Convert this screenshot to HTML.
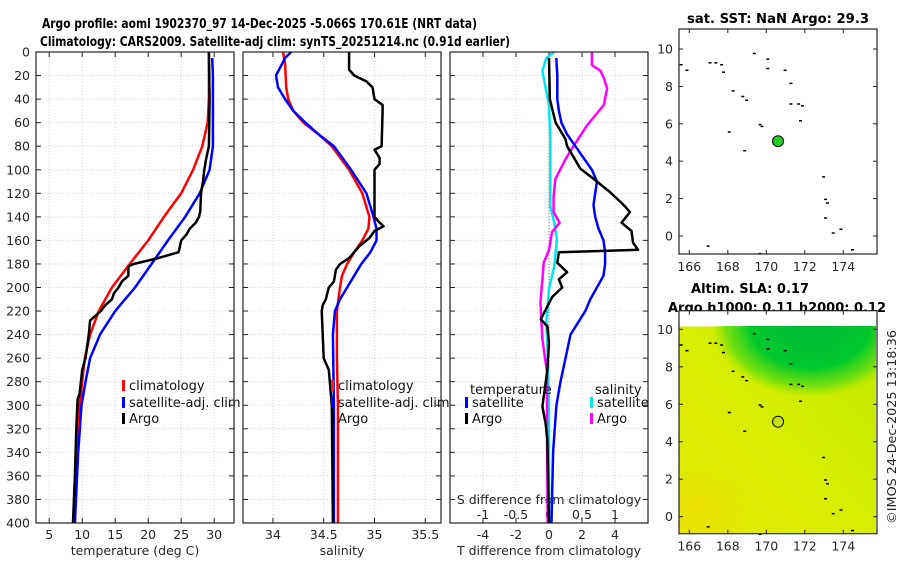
<!DOCTYPE html>
<html><head><meta charset="utf-8">
<style>
html,body{margin:0;padding:0;background:#fff;}
svg{display:block;font-family:"DejaVu Sans","Liberation Sans",sans-serif;}
.tk{font-size:12.5px;fill:#262626;}
.ttl{font-size:13px;font-weight:bold;fill:#000;}
.lg{font-size:13px;fill:#111;}
</style></head>
<body>
<svg id="chart" width="900" height="580" viewBox="0 0 900 580" xmlns="http://www.w3.org/2000/svg">
<defs>
<linearGradient id="bgGrad" x1="0" y1="1" x2="1" y2="0"><stop offset="0" stop-color="#e6e600"/><stop offset="0.5" stop-color="#d6ee00"/><stop offset="1" stop-color="#bfe800"/></linearGradient>
<radialGradient id="blob"><stop offset="0" stop-color="#00b838"/><stop offset="0.6" stop-color="#00c92c"/><stop offset="0.85" stop-color="#60dc10" stop-opacity="0.8"/><stop offset="1" stop-color="#a0e800" stop-opacity="0"/></radialGradient>
<radialGradient id="orng"><stop offset="0" stop-color="#f0d800" stop-opacity="0.6"/><stop offset="1" stop-color="#e8e400" stop-opacity="0"/></radialGradient>
<clipPath id="map2clip"><rect x="679" y="326" width="197" height="207"/></clipPath>
</defs>
<text class="ttl" x="42" y="28" textLength="435" lengthAdjust="spacingAndGlyphs">Argo profile: aoml 1902370_97 14-Dec-2025 -5.066S 170.61E (NRT data)</text>
<text class="ttl" x="40" y="46" textLength="470" lengthAdjust="spacingAndGlyphs">Climatology: CARS2009. Satellite-adj clim: synTS_20251214.nc (0.91d earlier)</text>
<text class="ttl" x="687" y="23" textLength="182" lengthAdjust="spacingAndGlyphs">sat. SST: NaN Argo: 29.3</text>
<text class="ttl" x="691" y="293" textLength="118" lengthAdjust="spacingAndGlyphs">Altim. SLA: 0.17</text>
<text class="ttl" x="668" y="312" textLength="218" lengthAdjust="spacingAndGlyphs">Argo h1000: 0.11 h2000: 0.12</text>
<text class="tk" transform="translate(896,524) rotate(-90)" x="0" y="0" textLength="194" lengthAdjust="spacingAndGlyphs">©IMOS 24-Dec-2025 13:18:36</text>
<g id="plots"></g>
</svg>
<script>
// ---------- data ----------
const depthTicks = [0,20,40,60,80,100,120,140,160,180,200,220,240,260,280,300,320,340,360,380,400];
const tempTicks = [5,10,15,20,25,30];
const salTicks = [34,34.5,35,35.5];
const salTickLabels = ["34","34.5","35","35.5"];
const tdiffTicks = [-4,-2,0,2,4];
const sdiffTicks = [-1,-0.5,0,0.5,1];
const sdiffTickLabels = ["-1","-0.5","0","0.5","1"];

const climTDepth = [0,40,60,80,100,120,140,160,180,200,220,240,260,280,300,320,340,360,380,400];
const climT = [29.2,29.2,29.0,28.2,26.8,25.0,22.4,20.0,17.2,14.5,12.5,11.2,10.4,10.0,9.6,9.3,9.1,9.0,8.95,8.9];
const satTDepth = [5,20,80,100,120,140,160,180,200,220,240,260,280,300,340,400];
const satT = [29.7,29.8,29.8,29.3,27.8,25.6,23.0,20.5,18.0,15.0,12.7,11.2,10.5,9.9,9.4,8.9];
const argoTDepth = [0,40,80,90,100,110,120,135,140,145,150,155,160,170,175,180,182,190,195,200,205,210,215,220,228,240,260,270,280,290,295,320,360,400];
const argoT = [29.2,29.3,29.2,28.8,28.5,28.3,28.0,27.9,27.7,27.2,26.3,25.8,25.0,24.6,21.5,17.8,17.0,17.0,16.0,15.5,14.8,14.5,13.5,12.8,11.2,11.0,10.5,10.0,9.8,9.6,9.3,9.1,8.9,8.6];

const climSDepth = [0,10,30,40,50,60,70,80,100,120,140,150,160,170,180,190,200,220,260,300,400];
const climS = [34.10,34.12,34.13,34.15,34.2,34.3,34.45,34.58,34.75,34.88,34.95,34.94,34.88,34.8,34.73,34.68,34.66,34.63,34.63,34.64,34.64];
const satSDepth = [0,5,10,20,30,40,50,60,70,80,100,120,140,150,160,170,180,190,200,210,220,240,300,400];
const satS = [34.18,34.12,34.09,34.03,34.05,34.12,34.2,34.32,34.45,34.6,34.77,34.92,34.99,35.02,35.02,34.96,34.87,34.8,34.73,34.66,34.61,34.59,34.6,34.6];
const argoSDepth = [0,15,20,25,30,40,45,50,80,83,90,95,100,110,130,140,145,148,152,158,165,175,180,185,195,200,210,215,220,260,270,300,400];
const argoS = [34.75,34.75,34.8,34.92,34.98,35.0,35.08,35.08,35.07,35.0,35.05,35.05,35.0,35.0,35.0,35.0,35.05,35.09,35.0,34.95,34.85,34.75,34.66,34.62,34.6,34.55,34.52,34.49,34.48,34.5,34.55,34.58,34.59];

const satTdDepth = [5,20,40,50,60,70,80,90,100,110,120,130,140,150,160,170,180,190,200,210,220,240,260,280,300,340,400];
const satTd = [0.44,0.5,0.5,0.6,0.75,1.1,1.6,2.1,2.6,2.9,2.8,2.7,2.8,3.0,3.3,3.4,3.4,3.3,2.9,2.5,2.2,1.3,1.0,0.7,0.45,0.25,0.15];
const argoTdDepth = [5,40,60,74,80,99,110,119,127,131,136,145,152,162,168,170,179,187,193,200,208,216,227,233,247,270,301,316,330,400];
const argoTd = [0.0,0.05,0.4,1.0,1.1,1.9,2.9,3.7,4.3,4.6,4.9,4.4,5.0,5.1,5.4,0.6,0.5,1.1,0.6,0.8,0.2,-0.1,-0.5,-0.1,0.0,-0.1,-0.4,-0.2,-0.1,0.0];
const satSdDepth = [0,5,16,31,45,74,131,145,159,182,201,229,258,300,400];
const satSd = [0.08,-0.04,-0.1,-0.05,0.0,0.02,0.02,0.08,0.12,0.08,0.0,-0.04,-0.02,0.0,0.0];
const argoSdDepth = [0,11,16,22,31,45,62,80,91,108,123,136,145,153,168,179,193,213,244,272,330,400];
const argoSd = [0.65,0.65,0.78,0.83,0.88,0.83,0.58,0.37,0.25,0.095,0.07,0.07,0.16,0.045,0.0,-0.08,-0.1,-0.13,-0.1,-0.03,-0.03,-0.02];

const mapLonTicks = [166,168,170,172,174];
const mapLatTicks = [0,2,4,6,8,10];
const floatLon = [170.61];
const floatLat = [5.07];
const coastLon = [165.5,165.8,167.0,167.3,167.6,167.7,168.2,168.7,168.9,169.3,169.6,169.7,170.0,170.0,170.9,171.2,171.2,171.6,171.7,171.8,172.9,173.0,173.1,173.0,173.4,173.8,174.4,168.0,168.8,166.9,169.6];
const coastLat = [9.2,8.9,9.3,9.3,9.2,8.8,7.8,7.5,7.3,9.8,6.0,5.9,9.5,9.0,8.9,8.2,7.1,7.1,6.2,7.0,3.2,2.0,1.8,1.0,0.2,0.4,-0.7,5.6,4.6,-0.5,-0.9];

// ---------- helpers ----------
const NS = "http://www.w3.org/2000/svg";
const root = document.getElementById('plots');
function mk(tag, attrs, parent){ const e=document.createElementNS(NS,tag); for(const k in attrs) e.setAttribute(k,attrs[k]); (parent||root).appendChild(e); return e; }
const yTop=52, yBot=523;
function yD(d){ return yTop + (d/400)*(yBot-yTop); }
function lin(d0,d1,r0,r1){ return v => r0 + (v-d0)/(d1-d0)*(r1-r0); }
const xT = lin(3,33,36,234);
const xS = lin(33.705,35.655,243,441);
const xTd = lin(-6,6,450,648);
const xSd = lin(-1.5,1.5,450,648);

function panelFrame(x0,x1,xs,xticks,name){
  const g=mk('g',{});
  
  
  mk('rect',{x:x0,y:yTop,width:x1-x0,height:yBot-yTop,fill:'#fff'},g);
  xticks.forEach(t=>{ const x=xs(t); mk('line',{x1:x,y1:yTop,x2:x,y2:yBot,stroke:'#d2d5ec','stroke-width':1,'stroke-dasharray':'1,2'},g);});
  depthTicks.forEach(d=>{ const y=yD(d); mk('line',{x1:x0,y1:y,x2:x1,y2:y,stroke:'#d2d5ec','stroke-width':1,'stroke-dasharray':'1,2'},g);
    mk('line',{x1:x0,y1:y,x2:x0+5,y2:y,stroke:'#222'},g); mk('line',{x1:x1,y1:y,x2:x1-5,y2:y,stroke:'#222'},g);});
  xticks.forEach(t=>{ const x=xs(t); mk('line',{x1:x,y1:yBot,x2:x,y2:yBot-5,stroke:'#222'},g); mk('line',{x1:x,y1:yTop,x2:x,y2:yTop+5,stroke:'#222'},g);});
  return g;
}
function frameBorder(x0,x1){ mk('rect',{x:x0,y:yTop,width:x1-x0,height:yBot-yTop,fill:'none',stroke:'#222','stroke-width':1.2}); }
function line(xs,vals,depths,color,w,name){
  let d='';
  vals.forEach((v,i)=>{ d+=(i?'L':'M')+xs(v).toFixed(1)+','+yD(depths[i]).toFixed(1); });
  const p=mk('path',{d:d,fill:'none',stroke:color,'stroke-width':w,'stroke-linejoin':'round'});
  
  
}
function txt(x,y,s,cls,anchor,name){ const t=mk('text',{x:x,y:y,class:cls,'text-anchor':anchor||'start'}); t.textContent=s;
  
  
  return t; }
function legendItem(x,y,color,label,name){
  mk('rect',{x:x,y:y-9,width:3,height:11,fill:color});
  txt(x+7,y+1,label,'lg','start',name);
}

// ---------- panel 1: temperature ----------
panelFrame(36,234,xT,tempTicks,'temperature-panel');
depthTicks.forEach(d=>txt(30,yD(d)+4.5,String(d),'tk','end','depth-tick-label'));
tempTicks.forEach(t=>txt(xT(t),539,String(t),'tk','middle','temperature-tick-label'));
txt(135,555,'temperature (deg C)','tk','middle','temperature-axis-title');
line(xT,climT,climTDepth,'#ff0000',2.5,'temperature-climatology-line');
line(xT,satT,satTDepth,'#0000ff',2.5,'temperature-satellite-line');
line(xT,argoT,argoTDepth,'#000000',2.5,'temperature-argo-line');
legendItem(122,389,'#ff0000','climatology','legend-climatology');
legendItem(122,406,'#0000ff','satellite-adj. clim','legend-satellite');
legendItem(122,422,'#000000','Argo','legend-argo');
frameBorder(36,234);

// ---------- panel 2: salinity ----------
panelFrame(243,441,xS,salTicks,'salinity-panel');
salTicks.forEach((t,i)=>txt(xS(t),539,salTickLabels[i],'tk','middle','salinity-tick-label'));
txt(342,555,'salinity','tk','middle','salinity-axis-title');
line(xS,climS,climSDepth,'#ff0000',2.5,'salinity-climatology-line');
line(xS,satS,satSDepth,'#0000ff',2.5,'salinity-satellite-line');
line(xS,argoS,argoSDepth,'#000000',2.5,'salinity-argo-line');
legendItem(331,389,'#ff2200','climatology','legend-climatology-sal');
legendItem(331,406,'#0000ff','satellite-adj. clim','legend-satellite-sal');
legendItem(331,422,'#000000','Argo','legend-argo-sal');
frameBorder(243,441);

// ---------- panel 3: differences ----------
panelFrame(450,648,xTd,tdiffTicks,'difference-panel');
mk('line',{x1:xTd(0),y1:yD(40),x2:xTd(0),y2:yBot,stroke:'#666','stroke-width':1,'stroke-dasharray':'1,2'});
tdiffTicks.forEach(t=>txt(xTd(t),539,String(t),'tk','middle','tdiff-tick-label'));
txt(549,555,'T difference from climatology','tk','middle','tdiff-axis-title');
txt(549,504,'S difference from climatology','tk','middle','sdiff-axis-title');
sdiffTicks.forEach((t,i)=>txt(xSd(t),519,sdiffTickLabels[i],'tk','middle','sdiff-tick-label'));
line(xSd,satSd,satSdDepth,'#00e5ee',2.5,'salinity-satellite-diff-line');
line(xSd,argoSd,argoSdDepth,'#ff00ff',2.5,'salinity-argo-diff-line');
line(xTd,satTd,satTdDepth,'#0000ff',2.5,'temperature-satellite-diff-line');
line(xTd,argoTd,argoTdDepth,'#000000',2.5,'temperature-argo-diff-line');
txt(470,394,'temperature','lg','start','legend-temperature-header');
legendItem(465,406,'#0000ff','satellite','legend-temp-satellite');
legendItem(465,422,'#000000','Argo','legend-temp-argo');
txt(595,394,'salinity','lg','start','legend-salinity-header');
legendItem(590,406,'#00e5ee','satellite','legend-sal-satellite');
legendItem(590,422,'#ff00ff','Argo','legend-sal-argo');
frameBorder(450,648);

// ---------- maps ----------
const mx0=679, mx1=877;
const mLon = lin(166,174,689.3,843.3);
function drawMap(yTopM,yBotM,lat10,lat0,colored,name){
  const mLat = lin(0,10,lat0,lat10);
  const g=mk('g',{});
  
  
  mk('rect',{x:mx0,y:yTopM,width:mx1-mx0,height:yBotM-yTopM,fill:'#fff'},g);
  if(colored){
    const top=mLat(10.15);
    const cg=mk('g',{'clip-path':'url(#map2clip)'},g);
    mk('rect',{x:mx0,y:top,width:mx1-mx0-1,height:yBotM-top,fill:'url(#bgGrad)'},cg);
    mk('ellipse',{cx:mLon(166.5),cy:mLat(0.5),rx:60,ry:50,fill:'url(#orng)'},cg);
    mk('ellipse',{cx:mLon(172.3),cy:mLat(10.3),rx:100,ry:74,fill:'url(#blob)'},cg);
  }
  mapLonTicks.forEach(t=>{ const x=mLon(t); mk('line',{x1:x,y1:yBotM,x2:x,y2:yBotM-4,stroke:'#222'},g); mk('line',{x1:x,y1:yTopM,x2:x,y2:yTopM+4,stroke:'#222'},g);
    txt(x,yBotM+17,String(t),'tk','middle','map-lon-tick-label');});
  mapLatTicks.forEach(t=>{ const y=mLat(t); mk('line',{x1:mx0,y1:y,x2:mx0+4,y2:y,stroke:'#222'},g); mk('line',{x1:mx1,y1:y,x2:mx1-4,y2:y,stroke:'#222'},g);
    txt(mx0-6,y+4.5,String(t),'tk','end','map-lat-tick-label');});
  coastLon.forEach((lo,i)=>{ mk('rect',{x:mLon(lo),y:mLat(coastLat[i]),width:3,height:1.5,fill:'#000'},g); });
  const c=mk('circle',{cx:mLon(floatLon[0]),cy:mLat(floatLat[0]),r:5.5,fill:colored?'#c8e400':'#22cc22',stroke:'#000','stroke-width':1},g);
  
  
  mk('rect',{x:mx0,y:yTopM,width:mx1-mx0,height:yBotM-yTopM,fill:'none',stroke:'#222','stroke-width':1.2},g);
}
drawMap(29,254,49,236,false,'sst-map');
drawMap(310.7,533.7,329.3,516.7,true,'sla-map');
</script>
</body></html>
